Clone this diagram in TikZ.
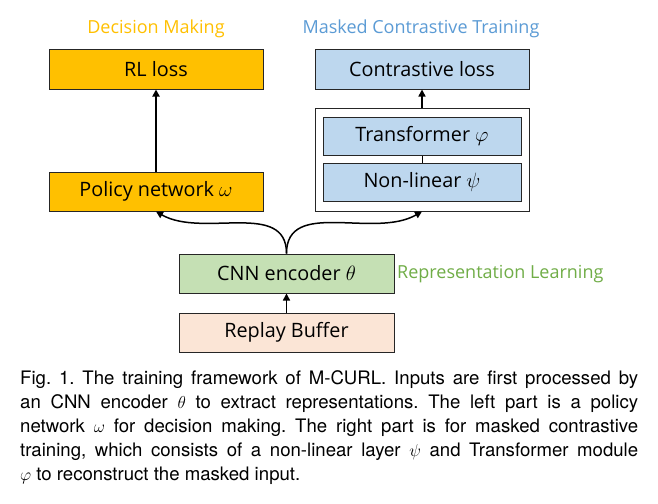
\documentclass[tikz,border=0pt]{standalone}
\usepackage{fontspec}
\setmainfont{Open Sans}
\newfontfamily\capfont{TeX Gyre Heros}
\usetikzlibrary{arrows.meta}
\definecolor{cyel}{HTML}{FFC000}
\definecolor{cblue}{HTML}{BDD7EE}
\definecolor{cbluet}{HTML}{5B9BD5}
\definecolor{cgreen}{HTML}{C5E0B4}
\definecolor{cgreent}{HTML}{70AD47}
\definecolor{cpink}{HTML}{FBE5D6}
\tikzset{
  blk/.style={draw=black!85, line width=1pt, minimum height=39pt, inner sep=0pt, font=\fontsize{19.8}{22}\selectfont},
  arr/.style={-{Triangle[length=7pt,width=7pt]}, line width=1.5pt},
  ttl/.style={font=\fontsize{18}{20}\selectfont}
}
\begin{document}
\begin{tikzpicture}[x=1pt,y=-1pt]
\useasboundingbox (0,0) rectangle (658,503);
\fill[white] (0,0) rectangle (658,503);
\node[ttl, text=cyel] (t1) at (156,29) {Decision Making};
\node[ttl, text=cbluet] (t2) at (421,29) {Masked Contrastive Training};
\node[blk, fill=cyel, minimum width=214pt] (rl) at (156,69.5) {RL loss};
\node[blk, fill=cyel, minimum width=214pt] (pol) at (156,191.5) {Policy network $\omega$};
\node[blk, fill=cblue, minimum width=214pt] (con) at (422,69.5) {Contrastive loss};
\node[draw=black!85, line width=1pt, fill=white, minimum width=214pt, minimum height=103pt, inner sep=0pt] (outer) at (422,159.5) {};
\node[blk, fill=cblue, minimum width=198pt, minimum height=38pt] (tr) at (422,136) {Transformer $\varphi$};
\node[blk, fill=cblue, minimum width=198pt, minimum height=38pt] (nl) at (422,182) {Non-linear $\psi$};
\node[blk, fill=cgreen, minimum width=215pt] (cnn) at (286.5,273.5) {CNN encoder $\theta$};
\node[ttl, text=cgreent, anchor=west, inner sep=0pt] (t3) at (397,274) {Representation Learning};
\node[blk, fill=cpink, minimum width=215pt] (rb) at (286.5,332.5) {Replay Buffer};
\draw[line width=1pt] (tr.south) -- (nl.north);
\draw[arr, line width=2pt] (pol.north) -- (rl.south);
\draw[arr] (outer.north) -- (con.south);
\draw[arr] (rb.north) -- (cnn.south);
\draw[arr] (cnn.north) to[out=90,in=-30] (pol.south);
\draw[arr] (cnn.north) to[out=90,in=-150] (outer.south);
\node[anchor=north west, inner sep=0pt, text width=618pt, align=justify, font=\capfont\fontsize{18.6}{24}\selectfont\frenchspacing] (cap) at (20,370)
{Fig. 1. The training framework of M-CURL. Inputs are first processed by\linebreak
an CNN encoder $\theta$ to extract representations. The left part is a policy\linebreak
network $\omega$ for decision making. The right part is for masked contrastive\linebreak
training, which consists of a non-linear layer $\psi$ and Transformer module\linebreak
$\varphi$ to reconstruct the masked input.};
\end{tikzpicture}
\end{document}
